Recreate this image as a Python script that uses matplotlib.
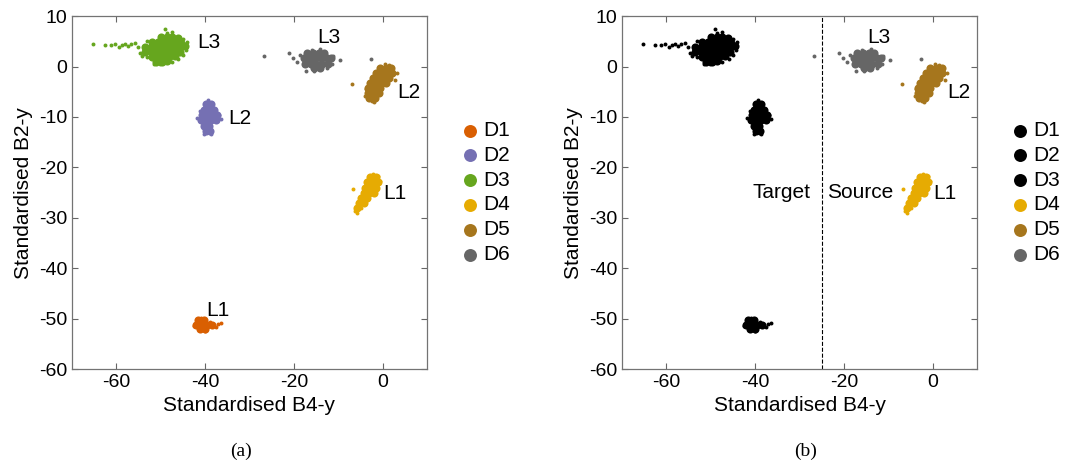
import numpy as np
import matplotlib.pyplot as plt

plt.rcParams['font.family'] = ['Liberation Sans', 'DejaVu Sans']
plt.rcParams['axes.unicode_minus'] = False

# dataset names and colours
names = ['D1', 'D2', 'D3', 'D4', 'D5', 'D6']
colors = ['#D95F02', '#7570B3', '#66A61E', '#E6AB02', '#A6761D', '#666666']

# dense cores of each cluster (B4-y, B2-y)
d1_core = [(-41.5, -50.3), (-40.3, -50.3), (-42.0, -51.2), (-40.8, -51.2), (-39.6, -51.2),
           (-38.4, -51.2), (-41.2, -52.0), (-40.0, -52.0)]
d2_core = [(-39.8, -7.5), (-38.6, -7.5), (-40.2, -8.6), (-39.0, -8.6), (-37.9, -8.6),
           (-40.8, -9.7), (-39.6, -9.7), (-38.4, -9.7), (-37.3, -9.7),
           (-41.0, -10.7), (-39.8, -10.7), (-38.6, -10.7), (-37.5, -10.7),
           (-40.3, -11.8), (-39.2, -11.8), (-39.8, -12.8), (-39.0, -12.8)]
d3_core = [(-50.0, 5.8), (-48.7, 5.8), (-47.4, 5.8), (-46.1, 5.6),
           (-52.0, 4.8), (-50.7, 4.8), (-49.4, 4.8), (-48.1, 4.8), (-46.8, 4.8), (-45.5, 4.7),
           (-53.5, 3.8), (-52.2, 3.8), (-50.9, 3.8), (-49.6, 3.8), (-48.3, 3.8), (-47.0, 3.8),
           (-45.7, 3.8), (-44.6, 4.0),
           (-53.5, 2.8), (-52.2, 2.8), (-50.9, 2.8), (-49.6, 2.8), (-48.3, 2.8), (-47.0, 2.8),
           (-45.7, 2.9),
           (-52.0, 1.8), (-50.7, 1.8), (-49.4, 1.8), (-48.1, 1.8), (-46.8, 2.0),
           (-51.0, 1.0), (-49.8, 1.0), (-48.6, 1.1)]
d4_core = [(-2.8, -22.0), (-1.6, -22.0), (-3.5, -23.0), (-2.3, -23.0), (-1.1, -23.0),
           (-3.9, -24.0), (-2.7, -24.0), (-1.5, -24.0), (-4.3, -25.0), (-3.1, -25.0),
           (-1.9, -25.0), (-4.8, -26.0), (-3.6, -26.0), (-5.4, -27.0), (-4.2, -27.0),
           (-5.8, -28.0)]
d5_core = [(-0.5, -0.2), (0.8, -0.2), (2.0, -0.3), (-1.5, -1.2), (-0.2, -1.2), (1.1, -1.2),
           (2.2, -1.2), (-2.2, -2.2), (-0.9, -2.2), (0.4, -2.2), (1.5, -2.2),
           (-2.8, -3.2), (-1.5, -3.2), (-0.2, -3.2), (0.8, -3.2),
           (-3.2, -4.2), (-1.9, -4.2), (-0.6, -4.2), (-3.3, -5.2), (-2.0, -5.2), (-0.9, -5.2),
           (-3.0, -6.2), (-1.8, -6.2)]
d6_core = [(-17.0, 2.6), (-15.7, 2.6), (-14.4, 2.6), (-13.1, 2.6),
           (-17.8, 1.6), (-16.5, 1.6), (-15.2, 1.6), (-13.9, 1.6), (-12.6, 1.6), (-11.6, 1.6),
           (-17.5, 0.6), (-16.2, 0.6), (-14.9, 0.6), (-13.6, 0.6), (-12.3, 0.6),
           (-15.5, -0.2), (-14.2, -0.2)]

# sparse points around the cores
d1_edge = [(-37.2, -51.0), (-36.5, -50.8), (-37.5, -51.6), (-42.5, -51.5), (-40.0, -52.5),
           (-38.8, -50.6), (-41.0, -49.8)]
d2_edge = [(-39.3, -6.7), (-41.8, -10.3), (-36.5, -10.4), (-36.8, -9.6), (-40.2, -13.4),
           (-38.6, -13.4), (-41.2, -8.9)]
d3_edge = [(-65.2, 4.4), (-62.6, 4.2), (-61.1, 4.2), (-60.3, 4.4), (-59.4, 3.9), (-58.8, 4.2),
           (-58.1, 4.4), (-57.3, 4.0), (-56.6, 4.4), (-55.8, 4.6), (-55.1, 3.9), (-54.7, 2.6),
           (-54.3, 2.1), (-53.2, 1.9), (-49.0, 7.5), (-47.4, 6.8), (-48.5, 6.6), (-45.0, 5.5),
           (-44.0, 4.8), (-44.2, 3.2), (-45.0, 2.2), (-53.0, 5.0), (-51.5, 0.6), (-50.2, 0.6),
           (-47.5, 0.9), (-46.0, 1.5)]
d4_edge = [(-2.2, -21.4), (-1.0, -21.8), (-0.7, -22.8), (-6.7, -24.3), (-6.3, -28.6),
           (-5.7, -29.0), (-4.8, -28.0)]
d5_edge = [(0.5, 0.6), (1.5, 0.4), (-3.8, -4.5), (-2.5, -6.9), (-7.0, -3.4), (3.2, -1.2),
           (2.7, -2.7), (-2.0, -7.0), (-3.9, -5.8)]
d6_edge = [(-18.6, 2.2), (-11.2, 2.0), (-11.5, 0.5), (-16.0, 3.3), (-14.0, 3.4), (-17.2, -0.85),
           (-15.5, -0.8), (-12.5, -0.3), (-26.8, 2.06), (-21.0, 2.6), (-20.2, 1.7),
           (-19.3, 0.9), (-9.6, 1.3), (-2.7, 1.4)]

cores = [d1_core, d2_core, d3_core, d4_core, d5_core, d6_core]
edges = [d1_edge, d2_edge, d3_edge, d4_edge, d5_edge, d6_edge]

# cluster labels
labels_a = [('L1', -39.8, -48.3), ('L2', -34.8, -10.4), ('L3', -41.8, 4.7),
            ('L1', 0.2, -25.1), ('L2', 3.4, -5.1), ('L3', -14.7, 5.8)]
labels_b = labels_a[3:]

fig = plt.figure(figsize=(10.68, 4.68), dpi=100)
ax_a = fig.add_axes([0.0674, 0.2115, 0.3324, 0.754])
ax_b = fig.add_axes([0.5824, 0.2115, 0.3324, 0.754])


def draw(ax, cols, labels):
    for name, col, core, edge in zip(names, cols, cores, edges):
        c = np.array(core)
        e = np.array(edge)
        ax.scatter(c[:, 0], c[:, 1], s=34, color=col, linewidths=0, label=name)
        ax.scatter(e[:, 0], e[:, 1], s=8, color=col, linewidths=0)
    for txt, x, y in labels:
        ax.text(x, y, txt, fontsize=15, va='center', ha='left')
    ax.set_xlim(-70, 10)
    ax.set_ylim(-60, 10)
    ax.set_xticks([-60, -40, -20, 0])
    ax.set_yticks(np.arange(-60, 11, 10))
    ax.tick_params(direction='in', top=True, right=True, labelsize=14,
                   length=4, color='0.4', width=0.8)
    for sp in ax.spines.values():
        sp.set_color('0.45')
        sp.set_linewidth(0.9)
    ax.set_xlabel('Standardised B4-y', fontsize=15)
    ax.set_ylabel('Standardised B2-y', fontsize=15)
    ax.legend(loc='center left', bbox_to_anchor=(1.04, 0.5), frameon=False,
              fontsize=15, markerscale=1.6, handlelength=1.0, handletextpad=0.1,
              labelspacing=0.28, scatterpoints=1)


draw(ax_a, colors, labels_a)
draw(ax_b, ['black', 'black', 'black'] + colors[3:], labels_b)

ax_b.axvline(-25, color='black', linestyle='--', linewidth=0.8)
ax_b.text(-27.6, -24.9, 'Target', fontsize=15, va='center', ha='right')
ax_b.text(-23.8, -24.9, 'Source', fontsize=15, va='center', ha='left')

fig.text(0.2257, 0.036, '(a)', fontsize=14, family='Liberation Serif', ha='center', va='center')
fig.text(0.7547, 0.036, '(b)', fontsize=14, family='Liberation Serif', ha='center', va='center')

fig.savefig('out.png', dpi=100)
